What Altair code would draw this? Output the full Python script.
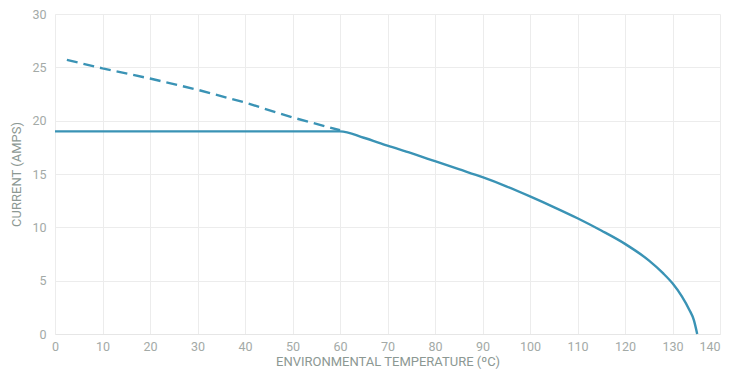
import altair as alt
import pandas as pd

# Solid curve: flat limit then derating curve
solid_temp = [0, 60, 65, 70, 75, 80, 85, 90, 95, 100, 105, 110, 115, 120, 125, 128, 130, 132, 133.5, 134.5, 135.2]
solid_amps = [19.0, 19.0, 18.4, 17.65, 16.95, 16.2, 15.45, 14.7, 13.85, 12.9, 11.9, 10.85, 9.7, 8.45, 6.9, 5.7, 4.75, 3.5, 2.3, 1.3, 0.0]

# Dashed extension above the flat limit
dash_temp = [2.5, 10, 20, 30, 40, 50, 60]
dash_amps = [25.7, 24.9, 23.95, 22.9, 21.7, 20.3, 19.1]

x_ticks = [0, 10, 20, 30, 40, 50, 60, 70, 80, 90, 100, 110, 120, 130, 140]
y_ticks = [0, 5, 10, 15, 20, 25, 30]

solid = pd.DataFrame({"t": solid_temp, "a": solid_amps, "o": range(len(solid_temp))})
dash = pd.DataFrame({"t": dash_temp, "a": dash_amps, "o": range(len(dash_temp))})

COLOR = "#3a93b5"
FONT = "Roboto"

x_enc = alt.X("t:Q", scale=alt.Scale(domain=[0, 140], nice=False),
              axis=alt.Axis(values=x_ticks, title="ENVIRONMENTAL TEMPERATURE (ºC)",
                            labelColor="#a3aaa7", titleColor="#8c9893",
                            labelFont=FONT, titleFont=FONT, labelFontSize=12.5,
                            titleFontSize=13, titleFontWeight="normal",
                            labelPadding=6, titlePadding=3, ticks=False,
                            labelAlign=alt.expr("datum.value == 140 ? 'right' : 'center'"),
                            domainColor="#e6e6e6", gridColor="#ececec",
                            labelFlush=False))
y_enc = alt.Y("a:Q", scale=alt.Scale(domain=[0, 30], nice=False),
              axis=alt.Axis(values=y_ticks, title="CURRENT (AMPS)",
                            labelColor="#a3aaa7", titleColor="#8c9893",
                            labelFont=FONT, titleFont=FONT, labelFontSize=12.5,
                            titleFontSize=13, titleFontWeight="normal",
                            labelPadding=9, titlePadding=8, ticks=False,
                            domainColor="#ececec", gridColor="#ececec"))

line_solid = alt.Chart(solid).mark_line(color=COLOR, strokeWidth=2.4, interpolate="monotone").encode(
    x=x_enc, y=y_enc, order="o:Q")
line_dash = alt.Chart(dash).mark_line(color=COLOR, strokeWidth=2.4, strokeDash=[11, 6]).encode(
    x=x_enc, y=y_enc, order="o:Q")

chart = (line_dash + line_solid).properties(
    width=665, height=320,
    autosize=alt.AutoSizeParams(type="none"),
    padding={"left": 47, "top": 6, "right": 1, "bottom": 35},
    background="white",
).configure_view(stroke=None)

chart.save("out.html", embed_options={"renderer": "svg", "actions": False})
